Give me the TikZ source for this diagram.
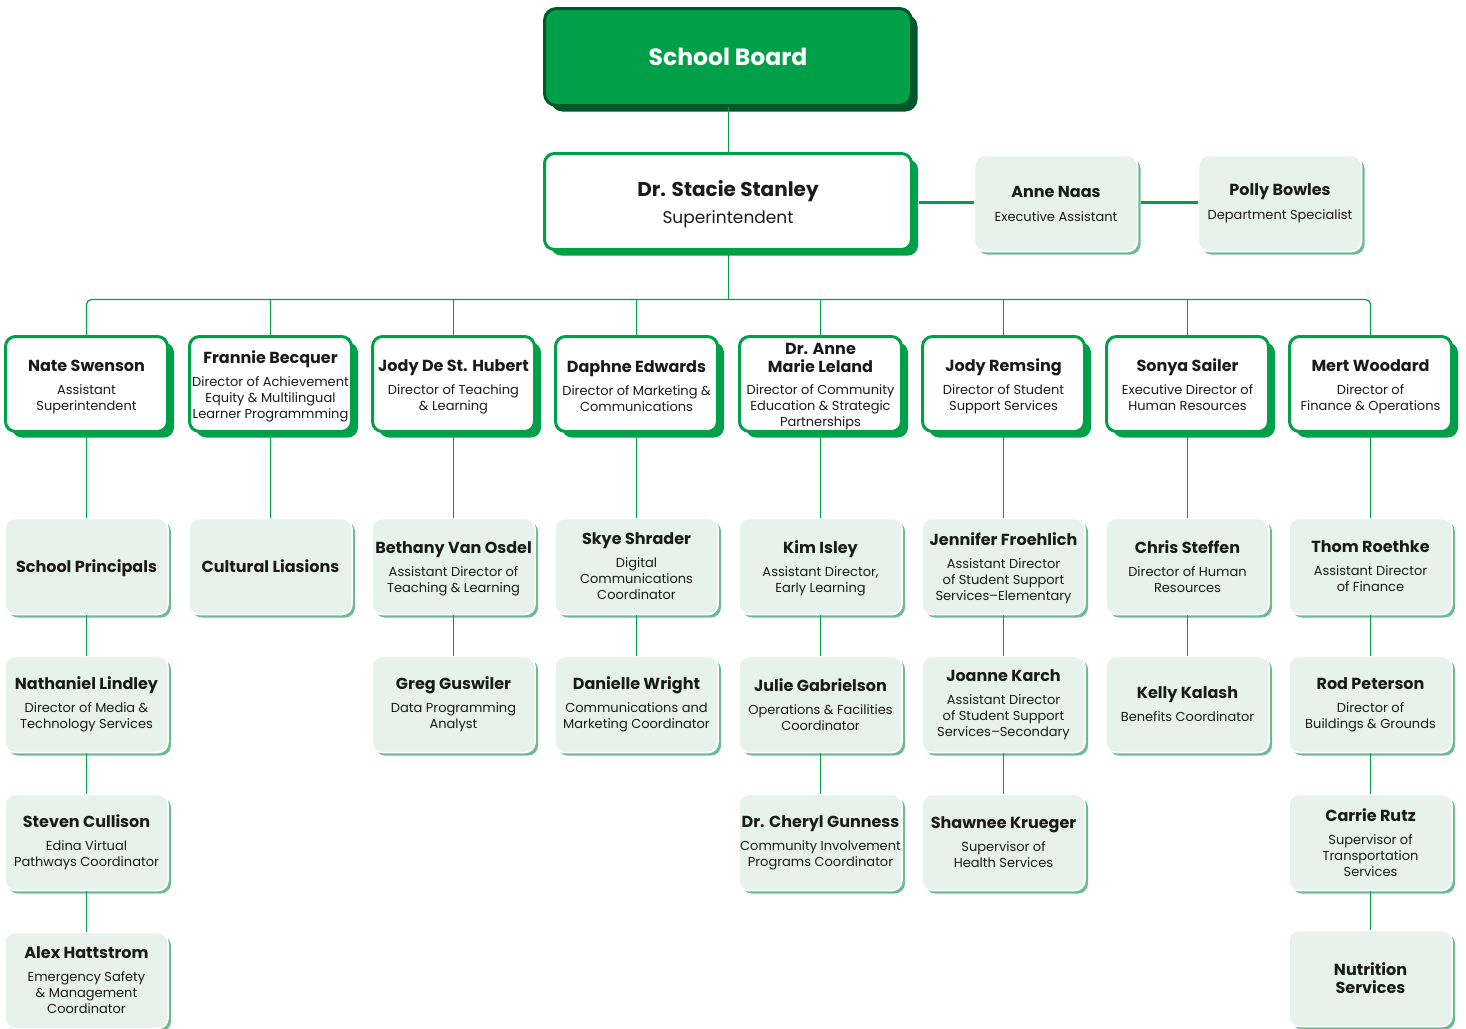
\documentclass[tikz,border=0pt]{standalone}
\usepackage{fontspec}
\setmainfont{Poppins}
\usetikzlibrary{shadows}
\definecolor{gr}{HTML}{00A049}
\definecolor{dkgr}{HTML}{00572A}
\definecolor{lt}{HTML}{E8F2EC}
\definecolor{ltsh}{HTML}{6DBB94}
\definecolor{txt}{HTML}{1A1A1A}
\newcommand\nm[1]{{\fontsize{16}{18}\selectfont\bfseries #1}}
\newcommand\st{\rule{0pt}{17.5pt}}
\newcommand\stl{\rule{0pt}{16pt}}
\tikzset{
  topbox/.style={draw=gr, line width=3pt, fill=white, rounded corners=10pt,
    minimum width=162pt, minimum height=95pt, inner sep=0pt,
    drop shadow={shadow xshift=6.5pt, shadow yshift=-6pt, fill=gr, opacity=1},
    align=center, text=txt, font=\fontsize{13}{16}\selectfont},
  litebox/.style={draw=white, line width=1.5pt, fill=lt, rounded corners=10pt,
    minimum width=163pt, minimum height=96pt, inner sep=0pt,
    drop shadow={shadow xshift=3pt, shadow yshift=-3pt, fill=ltsh, opacity=1},
    align=center, text=txt, font=\fontsize{13}{16}\selectfont},
  conn/.style={draw=gr, line width=1.2pt},
  thickconn/.style={draw=gr, line width=2.2pt},
}
\begin{document}
\begin{tikzpicture}[x=1pt,y=-1pt]
\useasboundingbox (0,0) rectangle (1466,1028);
\clip (0,0) rectangle (1466,1028);
% top
\node[draw=dkgr, line width=3pt, fill=gr, rounded corners=12pt, minimum width=367pt, minimum height=97pt, inner sep=0pt,
  drop shadow={shadow xshift=6pt, shadow yshift=-6pt, fill=dkgr, opacity=1},
  text=white, font=\fontsize{23.5}{26}\selectfont\bfseries] (sb) at (728,57) {School Board};
\node[topbox, minimum width=367pt, minimum height=96pt] (sup) at (728,201.5)
  {\rule{0pt}{22pt}{\fontsize{20}{22}\selectfont\bfseries Dr. Stacie Stanley}\\[8pt]{\fontsize{17}{18}\selectfont Superintendent}};
\node[litebox, minimum width=163pt] (anne) at (1056,203.5) {\nm{Anne Naas}\\[8pt]Executive Assistant};
\node[litebox, minimum width=163pt] (polly) at (1280,203.5) {\nm{Polly Bowles}\\[8pt]Department Specialist};
% row 1
\node[topbox] (n1) at (86.5,384) {\st\nm{Nate Swenson}\\[7pt]Assistant\\Superintendent};
\node[topbox] (n2) at (270.5,384) {\st\nm{Frannie Becquer}\\[7pt]Director of Achievement\\Equity \& Multilingual\\Learner Programmming};
\node[topbox] (n3) at (453.5,384) {\st\nm{Jody De St. Hubert}\\[7pt]Director of Teaching\\\& Learning};
\node[topbox] (n4) at (636.5,384) {\stl\nm{Daphne Edwards}\\[7pt]Director of Marketing \&\\Communications};
\node[topbox] (n5) at (820.5,384) {\rule{0pt}{17pt}\nm{Dr. Anne}\\[2pt]\nm{Marie Leland}\\[6pt]Director of Community\\Education \& Strategic\\Partnerships};
\node[topbox] (n6) at (1003.5,384) {\st\nm{Jody Remsing}\\[7pt]Director of Student\\Support Services};
\node[topbox] (n7) at (1187.5,384) {\rule{0pt}{13.5pt}\nm{Sonya Sailer}\\[7pt]Executive Director of\\Human Resources};
\node[topbox] (n8) at (1370.5,384) {\st\nm{Mert Woodard}\\[7pt]Director of\\Finance \& Operations};
% column 1
\node[litebox] (a2) at (86.5,566.5) {\stl\nm{School Principals}};
\node[litebox] (a3) at (86.5,704.5) {\nm{Nathaniel Lindley}\\[7pt]Director of Media \&\\Technology Services};
\node[litebox] (a4) at (86.5,842.5) {\nm{Steven Cullison}\\[7pt]Edina Virtual\\Pathways Coordinator};
\node[litebox] (a5) at (86.5,980.5) {\nm{Alex Hattstrom}\\[7pt]Emergency Safety\\\& Management\\Coordinator};
% column 2
\node[litebox] (b2) at (270.5,566.5) {\nm{Cultural Liasions}};
% column 3
\node[litebox] (c2) at (453.5,566.5) {\stl\nm{Bethany Van Osdel}\\[7pt]Assistant Director of\\Teaching \& Learning};
\node[litebox] (c3) at (453.5,704.5) {\nm{Greg Guswiler}\\[7pt]Data Programming\\Analyst};
% column 4
\node[litebox] (d2) at (636.5,566.5) {\nm{Skye Shrader}\\[7pt]Digital\\Communications\\Coordinator};
\node[litebox] (d3) at (636.5,704.5) {\nm{Danielle Wright}\\[7pt]Communications and\\Marketing Coordinator};
% column 5
\node[litebox] (e2) at (820.5,566.5) {\stl\nm{Kim Isley}\\[7pt]Assistant Director,\\Early Learning};
\node[litebox] (e3) at (820.5,704.5) {\nm{Julie Gabrielson}\\[7pt]Operations \& Facilities\\Coordinator};
\node[litebox] (e4) at (820.5,842.5) {\nm{Dr. Cheryl Gunness}\\[7pt]Community Involvement\\Programs Coordinator};
% column 6
\node[litebox] (f2) at (1003.5,566.5) {\stl\nm{Jennifer Froehlich}\\[7pt]Assistant Director\\of Student Support\\Services--Elementary};
\node[litebox] (f3) at (1003.5,704.5) {\nm{Joanne Karch}\\[7pt]Assistant Director\\of Student Support\\Services--Secondary};
\node[litebox] (f4) at (1003.5,842.5) {\nm{Shawnee Krueger}\\[7pt]Supervisor of\\Health Services};
% column 7
\node[litebox] (g2) at (1187.5,566.5) {\nm{Chris Steffen}\\[7pt]Director of Human\\Resources};
\node[litebox] (g3) at (1187.5,704.5) {\nm{Kelly Kalash}\\[7pt]Benefits Coordinator};
% column 8
\node[litebox] (h2) at (1370.5,566.5) {\nm{Thom Roethke}\\[7pt]Assistant Director\\of Finance};
\node[litebox] (h3) at (1370.5,704.5) {\nm{Rod Peterson}\\[7pt]Director of\\Buildings \& Grounds};
\node[litebox] (h4) at (1370.5,842.5) {\nm{Carrie Rutz}\\[7pt]Supervisor of\\Transportation\\Services};
\node[litebox] (h5) at (1370.5,978.5) {\nm{Nutrition}\\[2pt]\nm{Services}};
% connectors
\coordinate (bus) at (728.5,299.5);
\draw[conn] (sb.south -| bus) -- (sup.north -| bus);
\draw[conn] (sup.south -| bus) -- (bus);
\draw[conn, rounded corners=5pt] (n1.north) -- (n1.north |- bus) -- (n8.north |- bus) -- (n8.north);
\foreach \n in {n2,n3,n4,n5,n6,n7} { \draw[conn] (\n.north) -- (\n.north |- bus); }
\draw[thickconn] (sup.east |- 0,202.5) ++(6pt,0) -- (anne.west |- 0,202.5);
\draw[thickconn] (anne.east |- 0,202.5) ++(3pt,0) -- (polly.west |- 0,202.5);
\draw[conn] (n1) -- (a2) (a2) -- (a3) (a3) -- (a4) (a4) -- (a5);
\draw[conn] (n2) -- (b2);
\draw[conn] (n3) -- (c2) (c2) -- (c3);
\draw[conn] (n4) -- (d2) (d2) -- (d3);
\draw[conn] (n5) -- (e2) (e2) -- (e3) (e3) -- (e4);
\draw[conn] (n6) -- (f2) (f2) -- (f3) (f3) -- (f4);
\draw[conn] (n7) -- (g2) (g2) -- (g3);
\draw[conn] (n8) -- (h2) (h2) -- (h3) (h3) -- (h4) (h4) -- (h5);
\end{tikzpicture}
\end{document}
